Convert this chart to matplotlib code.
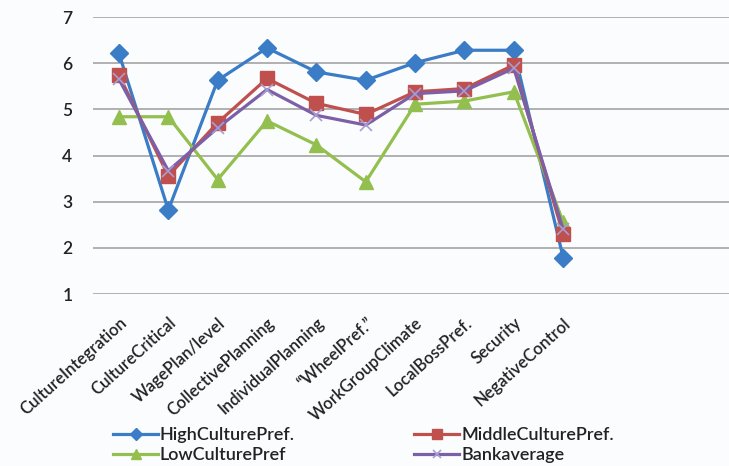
import matplotlib
matplotlib.use("Agg")
import matplotlib.pyplot as plt

categories = ["CultureIntegration", "CultureCritical", "WagePlan/level", "CollectivePlanning",
              "IndividualPlanning", "\u201cWheelPref.\u201d", "WorkGroupClimate", "LocalBossPref.",
              "Security", "NegativeControl"]
high = [6.21, 2.82, 5.63, 6.33, 5.81, 5.63, 6.01, 6.28, 6.28, 1.79]
middle = [5.74, 3.56, 4.71, 5.67, 5.13, 4.89, 5.38, 5.45, 5.96, 2.29]
low = [4.84, 4.84, 3.48, 4.75, 4.23, 3.43, 5.11, 5.18, 5.38, 2.56]
bank = [5.65, 3.67, 4.60, 5.43, 4.87, 4.66, 5.34, 5.40, 5.89, 2.40]
yticks = [1, 2, 3, 4, 5, 6, 7]

plt.rcParams['font.family'] = ['Lato', 'DejaVu Sans']

fig = plt.figure(figsize=(7.29, 4.66), dpi=100)
fig.patch.set_facecolor('#fbfcfd')
ax = fig.add_axes([0.128, 0.369, 0.872, 0.5945])
ax.set_facecolor('#fbfcfd')

x = list(range(len(categories)))
lw = 2.3
h1, = ax.plot(x, high, color='#3a7cc6', lw=lw, marker='D', ms=9, clip_on=False, zorder=3, label='HighCulturePref.')
h2, = ax.plot(x, middle, color='#c0504d', lw=lw, marker='s', ms=10, clip_on=False, zorder=4, label='MiddleCulturePref.')
h3, = ax.plot(x, low, color='#92bf4e', lw=lw, marker='^', ms=10, clip_on=False, zorder=3, label='LowCulturePref')
h4, = ax.plot(x, bank, color='#7d5fa8', lw=lw, marker='x', ms=9, mec='#a99cd0', mew=1.2, clip_on=False, zorder=5, label='Bankaverage')

ax.set_ylim(1, 7)
ax.set_xlim(-0.52, 12.36)
ax.set_yticks(yticks)
ax.set_yticklabels([str(v) for v in yticks], fontsize=12.5, fontweight='semibold', color='#222222')
ax.yaxis.grid(True, color='#ababab', lw=1.3)
ax.set_axisbelow(True)
ax.set_xticks(x)
ax.set_xticklabels(categories, rotation=42, ha='right', va='top', rotation_mode='anchor', fontsize=12,
                   fontweight='semibold', color='#222222')
ax.tick_params(axis='y', length=0, pad=15)
ax.tick_params(axis='x', length=0, pad=15)
for s in ax.spines.values():
    s.set_visible(False)

leg = fig.legend(handles=[h1, h3, h2, h4], ncol=2, loc='upper left', bbox_to_anchor=(0.155, 0.083),
                 frameon=False, columnspacing=6.6, handlelength=2.5, handletextpad=0.1,
                 labelspacing=0.22, borderpad=0, borderaxespad=0, markerscale=0.7,
                 prop={'weight': 'semibold', 'size': 13})
for t in leg.get_texts():
    t.set_color('#222222')

fig.savefig('out.png', dpi=100, facecolor=fig.get_facecolor())
